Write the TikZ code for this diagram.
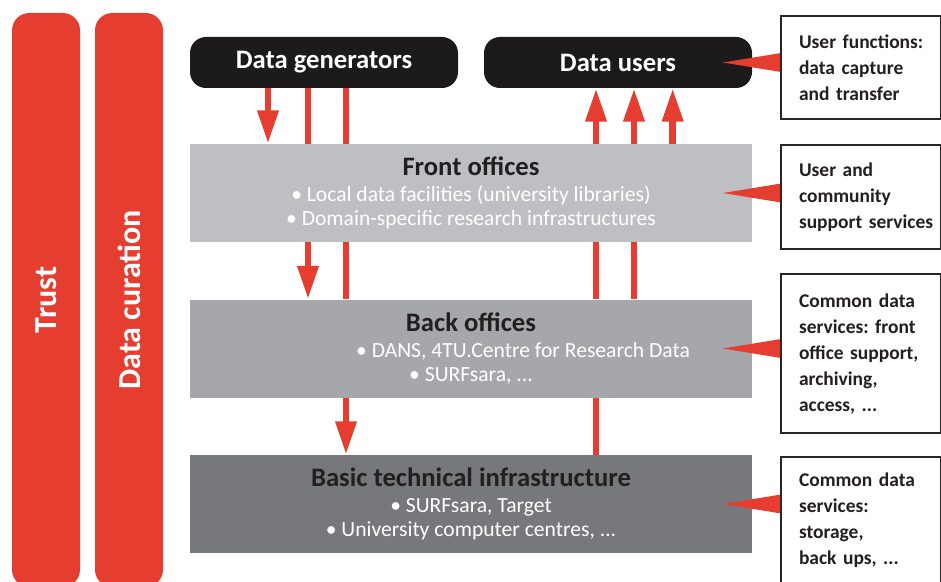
\documentclass[tikz,border=0pt]{standalone}
\usepackage{fontspec}
\setmainfont{Carlito}
\usepackage{xcolor}
\usepackage{tikz}
\usetikzlibrary{arrows.meta}
\usetikzlibrary{shapes,arrows,positioning}
\tikzset{>=latex}
\frenchspacing
\definecolor{trustred}{HTML}{E53D30}
\definecolor{actorblack}{HTML}{1C1A1B}
\definecolor{frontgray}{HTML}{BEBFC2}
\definecolor{backgray}{HTML}{A6A7AA}
\definecolor{basegray}{HTML}{77787B}
\definecolor{titleink}{HTML}{231F20}
\tikzset{
  pillar/.style={fill=trustred, rounded corners=13pt, minimum width=51pt, minimum height=430.5pt, inner sep=0pt, text=white, font=\bfseries\fontsize{24}{26}\selectfont},
  actor/.style={fill=actorblack, text=white, rounded corners=12pt, minimum width=201pt, minimum height=38.25pt, inner sep=0pt, font=\bfseries\fontsize{20}{22}\selectfont},
  layer/.style={minimum width=421.5pt, minimum height=73.5pt, inner sep=0pt, align=center, text=white, font=\fontsize{16.2}{18.4}\selectfont},
  note/.style={draw=black!85, line width=1.5pt, fill=white, minimum width=120pt, text width=93pt, inner xsep=13.5pt, align=left, font=\bfseries\fontsize{14.6}{19.5}\selectfont, text=titleink},
  flow/.style={draw=trustred, line width=5pt},
  flowarrow/.style={flow, -{Triangle[length=25pt,width=15pt]}},
  callout/.style={fill=trustred}
}
\newcommand{\layertitle}[1]{{\bfseries\fontsize{20}{22}\selectfont\color{titleink}#1}}

\begin{document}
\begin{tikzpicture}[x=0.75pt, y=-0.75pt]
            \useasboundingbox (0,0) rectangle (941,581);
            % pillars
            \node[pillar] (trust) at (46,300) {\rotatebox{90}{Trust}};
            \node[pillar] (curation) at (129,300) {\rotatebox{90}{Data curation}};
            % actors
            \node[actor] (generators) at (324,62.5) {Data generators};
            \node[actor] (users) at (618,62.5) {Data users};
            % layers
            \node[layer, fill=frontgray] (front) at (471,193) {\layertitle{Front offices}\\[1pt]
                \textbullet\ Local data facilities (university libraries)\\
                \textbullet\ Domain-specific research infrastructures};
            \node[layer, fill=backgray] (back) at (471,348.5) {\layertitle{Back offices}\\[1pt]
                \hspace*{78pt}\textbullet\ DANS, 4TU.Centre for Research Data\\
                \textbullet\ SURFsara, ...};
            \node[layer, fill=basegray] (basic) at (471,504) {\layertitle{Basic technical infrastructure}\\[1pt]
                \textbullet\ SURFsara, Target\\
                \textbullet\ University computer centres, ...};
            % notes
            \node[note, anchor=north west, minimum height=77.25pt] (note-user) at (780,15) {\mbox{User functions:}\\ \mbox{data capture}\\ \mbox{and transfer}};
            \node[note, anchor=north west, minimum height=78pt] (note-community) at (780,144) {User and\\ community\\ \mbox{support services}};
            \node[note, anchor=north west, minimum height=119.25pt] (note-common) at (780,273) {\mbox{Common data}\\ \mbox{services: front}\\ \mbox{office support,}\\ archiving,\\ access, ...};
            \node[note, anchor=north west, minimum height=94.5pt] (note-storage) at (780,456) {\mbox{Common data}\\ services:\\ storage,\\ \mbox{back ups, ...}};
            % callouts
            \fill[callout] ([xshift=-22pt]users.east) -- ([yshift=7pt]note-user.west |- users.east) -- ([yshift=-7pt]note-user.west |- users.east) -- cycle;
            \fill[callout] ([xshift=-22pt]front.east) -- ([yshift=7pt]note-community.west |- front.east) -- ([yshift=-7pt]note-community.west |- front.east) -- cycle;
            \fill[callout] ([xshift=-22pt]back.east) -- ([yshift=7pt]note-common.west |- back.east) -- ([yshift=-7pt]note-common.west |- back.east) -- cycle;
            \fill[callout] ([xshift=-22pt]basic.east) -- ([yshift=7pt]note-storage.west |- basic.east) -- ([yshift=-7pt]note-storage.west |- basic.east) -- cycle;
            % downward flows
            \draw[flowarrow] ([xshift=-42pt]generators.south) -- ([xshift=-42pt]generators.south |- front.north);
            \draw[flow] ([xshift=-12pt]generators.south) -- ([xshift=-12pt]generators.south |- front.north);
            \draw[flow] ([xshift=16.5pt]generators.south) -- ([xshift=16.5pt]generators.south |- front.north);
            \draw[flowarrow] ([xshift=-12pt]generators.south |- front.south) -- ([xshift=-12pt]generators.south |- back.north);
            \draw[flow] ([xshift=16.5pt]generators.south |- front.south) -- ([xshift=16.5pt]generators.south |- back.north);
            \draw[flowarrow] ([xshift=16.5pt]generators.south |- back.south) -- ([xshift=16.5pt]generators.south |- basic.north);
            % upward flows
            \draw[flowarrow] ([xshift=-16.5pt]users.south |- front.north) -- ([xshift=-16.5pt]users.south);
            \draw[flowarrow] ([xshift=12pt]users.south |- front.north) -- ([xshift=12pt]users.south);
            \draw[flowarrow] ([xshift=41pt]users.south |- front.north) -- ([xshift=41pt]users.south);
            \draw[flow] ([xshift=-16.5pt]users.south |- back.north) -- ([xshift=-16.5pt]users.south |- front.south);
            \draw[flow] ([xshift=12pt]users.south |- back.north) -- ([xshift=12pt]users.south |- front.south);
            \draw[flow] ([xshift=-16.5pt]users.south |- basic.north) -- ([xshift=-16.5pt]users.south |- back.south);
        \end{tikzpicture}
\end{document}
